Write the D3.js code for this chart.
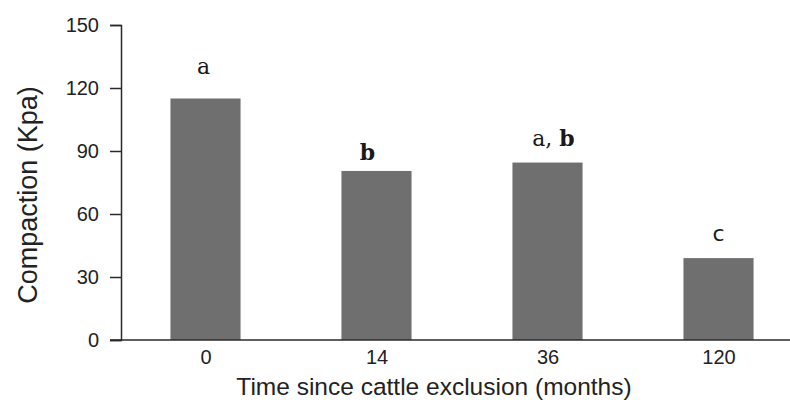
<!DOCTYPE html>
<html>
<head>
<meta charset="utf-8">
<script src="https://cdn.jsdelivr.net/npm/d3@7"></script>
<style>
  html, body { margin: 0; padding: 0; background: #fff; }
  svg { display: block; }
</style>
</head>
<body>
<svg id="chart" width="790" height="412"></svg>
<script>
const categories = ["0", "14", "36", "120"];
const values = [115, 80.5, 84.5, 39];
const letters = [
  [{t: "a", bold: false, serif: true}],
  [{t: "b", bold: true, serif: true}],
  [{t: "a, ", bold: false, serif: true}, {t: "b", bold: true, serif: true}],
  [{t: "c", bold: false, serif: false}]
];
const yTicks = [0, 30, 60, 90, 120, 150];

// label gap above each bar (layout only)
const labelGap = [25, 11, 17, 17];
const labelShift = [-2, -9, 6, 0];

const svg = d3.select("#chart");
const x = d3.scalePoint().domain(categories).range([120, 804]).padding(0.5);
const y = d3.scaleLinear().domain([0, 150]).range([340, 25]);
const barW = x.step() * 0.41;

// bars
svg.append("g").selectAll("rect").data(values).join("rect")
  .attr("x", (d, i) => x(categories[i]) - barW / 2)
  .attr("y", d => y(d))
  .attr("width", barW)
  .attr("height", d => y(0) - y(d))
  .attr("fill", "#6f6f6f");

// y axis
const yAxis = svg.append("g").attr("transform", "translate(121,0)")
  .call(d3.axisLeft(y).tickValues(yTicks).tickSize(11).tickPadding(11));
yAxis.select(".domain").attr("stroke", "#2a2a2a").attr("stroke-width", 1.5);
yAxis.selectAll(".tick line").attr("stroke", "#2a2a2a").attr("stroke-width", 1.5);
yAxis.selectAll("text").attr("font-family", "Liberation Sans, Arial, sans-serif")
  .attr("font-size", 20).attr("fill", "#222");

// x axis line
const xAxis = svg.append("g").attr("transform", `translate(0,${y(0)})`)
  .call(d3.axisBottom(x).tickSize(0).tickPadding(10));
xAxis.select(".domain").attr("d", "M110,0H790").attr("stroke", "#2a2a2a").attr("stroke-width", 1.5);
xAxis.selectAll("text").attr("font-family", "Liberation Sans, Arial, sans-serif")
  .attr("font-size", 20).attr("fill", "#222");

// significance letters
const lab = svg.append("g").selectAll("text").data(letters).join("text")
  .attr("x", (d, i) => x(categories[i]) + labelShift[i])
  .attr("y", (d, i) => y(values[i]) - labelGap[i])
  .attr("text-anchor", "middle")
  .attr("font-size", 22)
  .attr("fill", "#1a1a1a");
lab.selectAll("tspan").data(d => d).join("tspan")
  .text(d => d.t)
  .attr("font-weight", d => d.bold ? "bold" : "normal")
  .attr("font-family", d => d.serif ? "DejaVu Serif, serif" : "DejaVu Sans, sans-serif");

// axis titles
svg.append("text")
  .attr("transform", "translate(37,195) rotate(-90)")
  .attr("text-anchor", "middle")
  .attr("font-family", "Liberation Sans, Arial, sans-serif")
  .attr("font-size", 27)
  .attr("fill", "#222")
  .text("Compaction (Kpa)");

svg.append("text")
  .attr("x", 434)
  .attr("y", 395)
  .attr("text-anchor", "middle")
  .attr("font-family", "Liberation Sans, Arial, sans-serif")
  .attr("font-size", 24.5)
  .attr("fill", "#222")
  .text("Time since cattle exclusion (months)");
</script>
</body>
</html>
